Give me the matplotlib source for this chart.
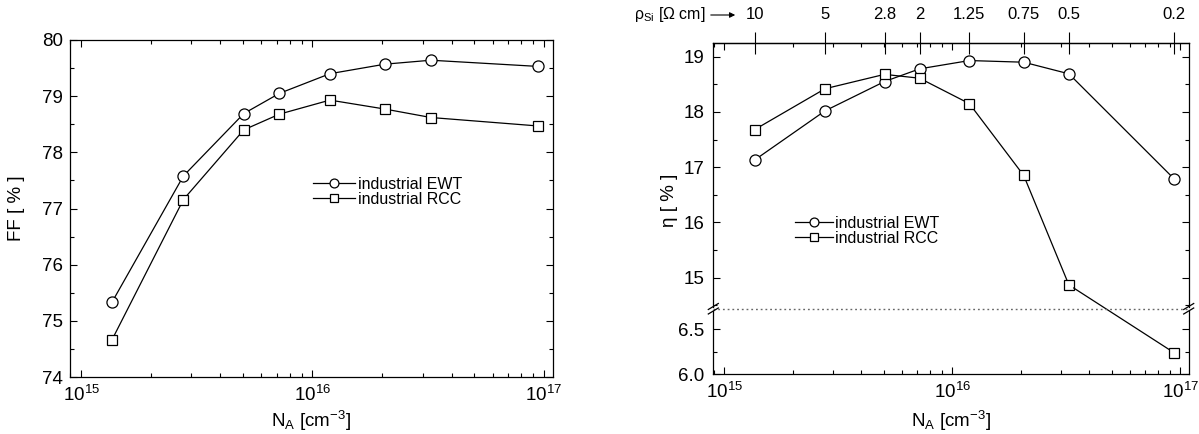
import numpy as np
import matplotlib
matplotlib.use('Agg')
import matplotlib.pyplot as plt
import matplotlib.ticker as mticker
from matplotlib.lines import Line2D
from matplotlib.patches import ConnectionPatch

plt.rcParams['font.family'] = ['Liberation Sans', 'DejaVu Sans']
plt.rcParams['mathtext.fontset'] = 'custom'
plt.rcParams['mathtext.rm'] = 'Liberation Sans'
plt.rcParams['mathtext.it'] = 'Liberation Sans:italic'
plt.rcParams['mathtext.bf'] = 'Liberation Sans:bold'

# ---------- values ----------
na = [1.36e15, 2.77e15, 5.05e15, 7.2e15, 1.19e16, 2.06e16, 3.25e16, 9.4e16]
rho_labels = ['10', '5', '2.8', '2', '1.25', '0.75', '0.5', '0.2']

ff_ewt = [75.33, 77.58, 78.69, 79.05, 79.40, 79.57, 79.64, 79.53]
ff_rcc = [74.66, 77.16, 78.40, 78.68, 78.93, 78.77, 78.62, 78.47]

eta_ewt = [17.13, 18.02, 18.55, 18.78, 18.93, 18.90, 18.69, 16.79]
eta_rcc = [17.68, 18.42, 18.68, 18.61, 18.15, 16.85, 14.87, 6.24]

# ---------- layout (pixel boxes, origin top-left) ----------
W, H = 1199, 434
fig = plt.figure(figsize=(W / 100, H / 100), dpi=100)


def box(x0, y0, x1, y1):
    return [x0 / W, 1 - y1 / H, (x1 - x0) / W, (y1 - y0) / H]


ax1 = fig.add_axes(box(70, 40, 552.5, 377))
up = fig.add_axes(box(713.3, 42.7, 1188.7, 306.5))
lo = fig.add_axes(box(713.3, 311, 1188.7, 374.3))

circ = dict(marker='o', ms=8, mfc='white', mec='black', mew=0.9, color='black', lw=0.9)
sq = dict(marker='s', ms=7, mfc='white', mec='black', mew=0.9, color='black', lw=0.9)

xlim = (8.96e14, 1.09e17)
for a in (ax1, up, lo):
    a.set_xscale('log')
    a.set_xlim(*xlim)
    a.xaxis.set_minor_formatter(mticker.NullFormatter())
    a.tick_params(which='both', direction='in', top=True, right=True,
                  labelsize=13.5, width=0.8)
    a.tick_params(which='major', length=5)
    a.tick_params(which='minor', length=3)
    a.tick_params(axis='x', pad=5.5)
    for s in a.spines.values():
        s.set_linewidth(0.9)

# ---------- left: fill factor ----------
ax1.plot(na, ff_ewt, label='industrial EWT', **circ)
ax1.plot(na, ff_rcc, label='industrial RCC', **sq)
ax1.set_ylim(74, 80)
ax1.yaxis.set_major_locator(mticker.MultipleLocator(1))
ax1.yaxis.set_minor_locator(mticker.MultipleLocator(0.5))
ax1.tick_params(axis='y', pad=5)
ax1.set_ylabel('FF [ % ]', fontsize=13.5)
ax1.yaxis.set_label_coords(-0.093, 0.5)
ax1.set_xlabel(r'N$_\mathregular{A}$ [cm$^\mathregular{-3}$]', fontsize=13.5)
ax1.xaxis.set_label_coords(0.5, -0.095)
ax1.legend(loc='center left', bbox_to_anchor=(0.504, 0.549), frameon=False,
           fontsize=11.5, handlelength=2.6, handletextpad=0.2, labelspacing=0.0,
           borderpad=0, borderaxespad=0, markerscale=0.8)

# ---------- right: efficiency with broken axis ----------
na_arr = np.array(na)
rcc = np.array(eta_rcc)
hi = rcc > 10

up.plot(na_arr, eta_ewt, label='industrial EWT', **circ)
up.plot(na_arr[hi], rcc[hi], label='industrial RCC', **sq)
lo.plot(na_arr[~hi], rcc[~hi], **sq)
con = ConnectionPatch(xyA=(na_arr[hi][-1], rcc[hi][-1]), coordsA=up.transData,
                      xyB=(na_arr[~hi][0], rcc[~hi][0]), coordsB=lo.transData,
                      arrowstyle='-', shrinkA=4, shrinkB=4, lw=0.9, color='black')
fig.add_artist(con)

up.set_ylim(14.479, 19.253)
up.yaxis.set_major_locator(mticker.MultipleLocator(1))
up.yaxis.set_minor_locator(mticker.MultipleLocator(0.5))
up.tick_params(which='both', bottom=False, labelbottom=False)
up.spines['bottom'].set_visible(False)
up.tick_params(axis='y', pad=6.5)

lo.set_ylim(6.0, 6.703)
lo.set_yticks([6.0, 6.5])
lo.yaxis.set_minor_locator(mticker.MultipleLocator(0.25))
lo.yaxis.set_major_formatter(mticker.FormatStrFormatter('%.1f'))
lo.tick_params(which='both', top=False)
lo.spines['top'].set_visible(False)
lo.tick_params(axis='y', pad=6.5)
lo.set_xlabel(r'N$_\mathregular{A}$ [cm$^\mathregular{-3}$]', fontsize=13.5)
lo.xaxis.set_label_coords(0.5, -0.55)

up.legend(loc='center left', bbox_to_anchor=(0.172, 0.287), frameon=False,
          fontsize=11.5, handlelength=2.4, handletextpad=0.1, labelspacing=0.0,
          borderpad=0, borderaxespad=0, markerscale=0.8)

fig.text(670 / W, 1 - 200 / H, 'η [ % ]', rotation=90, ha='center', va='center',
         fontsize=13.5)

# resistivity scale on top
sec = up.secondary_xaxis('top')
sec.set_xticks(na, labels=rho_labels)
sec.xaxis.set_minor_locator(mticker.NullLocator())
sec.tick_params(which='major', direction='inout', length=16.5, width=0.8,
                labelsize=12, pad=6.5)
sec.spines['top'].set_linewidth(0.9)

fig.text(706 / W, 1 - 15 / H, r'$\mathregular{ρ_{Si}}$ [Ω cm]', ha='right',
         va='center', fontsize=11.5)
up.annotate('', xy=(738, H - 15), xycoords='figure pixels',
            xytext=(708, H - 15), textcoords='figure pixels',
            arrowprops=dict(arrowstyle='-|>', color='black', lw=0.8,
                            mutation_scale=8), annotation_clip=False)

# break: dotted line and // marks
yb = 308.7
fig.add_artist(Line2D([713.3 / W, 1188.7 / W], [1 - yb / H] * 2, transform=fig.transFigure,
                      color='0.4', lw=1, dashes=(1.3, 2.1)))
for xs in (713.3, 1188.7):
    for yc in (306.5, 311):
        fig.add_artist(Line2D([(xs - 5) / W, (xs + 5) / W],
                              [1 - (yc + 3) / H, 1 - (yc - 3) / H],
                              transform=fig.transFigure, color='black', lw=0.9))

fig.savefig('out.png', dpi=100)
